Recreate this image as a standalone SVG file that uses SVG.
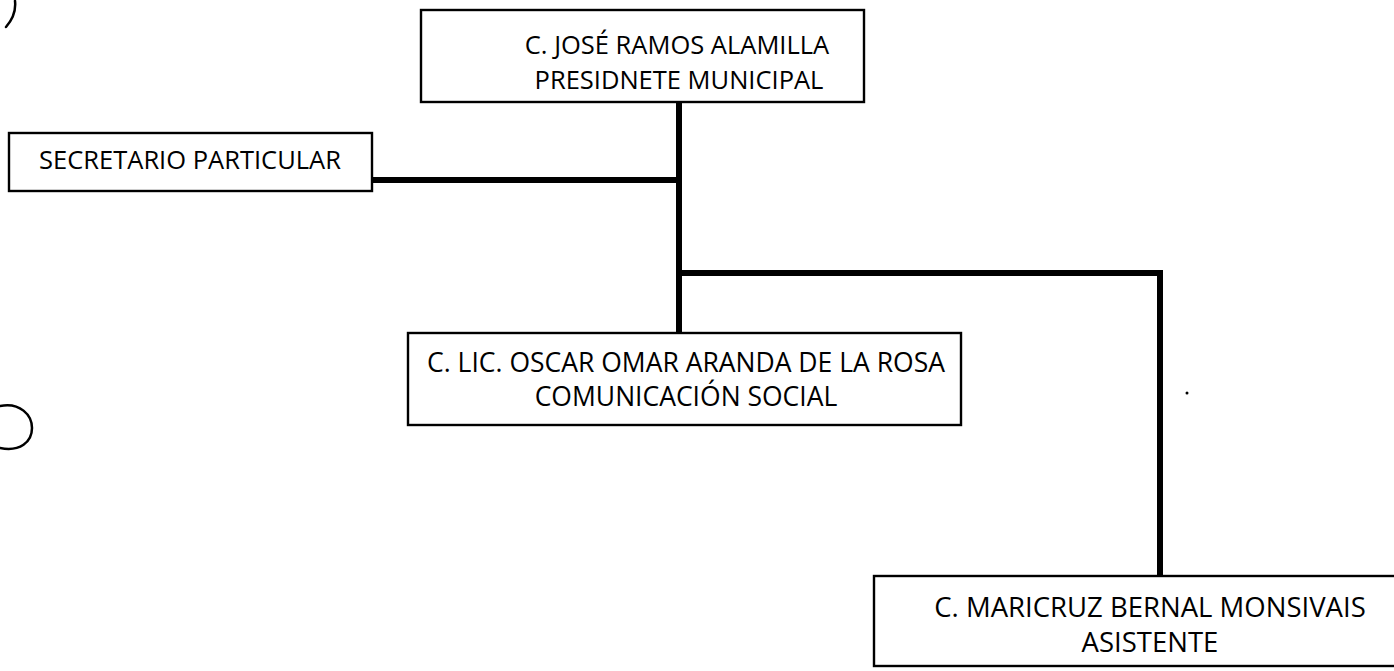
<svg xmlns="http://www.w3.org/2000/svg" width="1394" height="671" viewBox="0 0 1394 671">
<style>
.box{fill:#fff;stroke:#000;stroke-width:2.4}
.t{font-family:"Open Sans","Liberation Sans",sans-serif;font-size:25.5px;fill:#000;text-anchor:middle}
.c{fill:none;stroke:#000;stroke-width:6;stroke-linecap:square}
.mark{fill:none;stroke:#000;stroke-width:2.5;stroke-linecap:round}
</style>
<rect width="1394" height="671" fill="#fff"/>
<g id="marks">
<path class="mark" d="M15,1 C16,10 14,18 6,27"/>
<path class="mark" d="M0,406 C20,402 32,415 32,428 C32,442 20,452 0,448"/>
<circle cx="1187" cy="393" r="1.5" fill="#000"/>
</g>
<g id="connectors">
<path class="c" d="M679,102 V333"/>
<path class="c" d="M372,180 H679"/>
<path class="c" d="M679,273 H1160 V576"/>
</g>
<g id="presidente">
<rect class="box" x="421" y="10" width="443" height="92"/>
<text class="t" x="677" y="54">C. JOSÉ RAMOS ALAMILLA</text>
<text class="t" x="679" y="89">PRESIDNETE MUNICIPAL</text>
</g>
<g id="secretario">
<rect class="box" x="9" y="133" width="363" height="58"/>
<text class="t" x="190" y="169">SECRETARIO PARTICULAR</text>
</g>
<g id="comunicacion">
<rect class="box" x="408" y="333" width="553" height="92"/>
<text class="t" x="686" y="372" style="font-size:26.5px">C. LIC. OSCAR OMAR ARANDA DE LA ROSA</text>
<text class="t" x="686" y="406" style="font-size:26.5px">COMUNICACIÓN SOCIAL</text>
</g>
<g id="asistente">
<rect class="box" x="874" y="576" width="530" height="90"/>
<text class="t" x="1150" y="617" style="font-size:27.5px">C. MARICRUZ BERNAL MONSIVAIS</text>
<text class="t" x="1150" y="652" style="font-size:27.5px">ASISTENTE</text>
</g>
</svg>
